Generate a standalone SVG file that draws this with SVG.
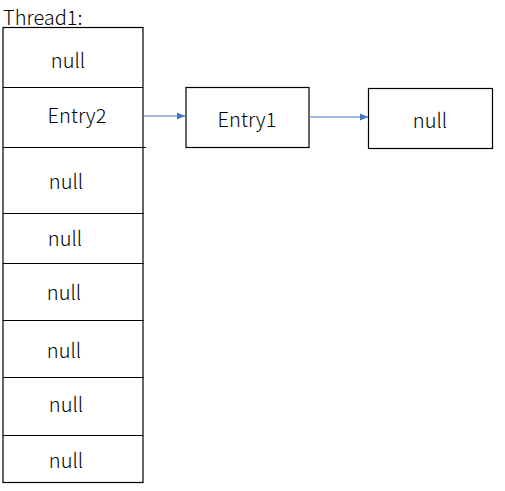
<svg xmlns="http://www.w3.org/2000/svg" width="505" height="491" viewBox="0 0 505 491">
<style>
.box{fill:#fff;stroke:#000;stroke-width:1.2}
.ln{stroke:#000;stroke-width:1.2}
.t{font-family:"Noto Sans CJK SC","Noto Sans",sans-serif;font-size:20px;fill:#000;text-anchor:middle;font-weight:300}
.conn{stroke:#4472C4;stroke-width:1.2;fill:none}
</style>
<defs>
<marker id="ah" markerWidth="9" markerHeight="9" refX="8" refY="4.5" orient="auto" markerUnits="userSpaceOnUse">
<path d="M0,1 L8,4.5 L0,8 Z" fill="#4472C4"/>
</marker>
</defs>
<text x="3" y="25" font-family="Noto Sans CJK SC,Noto Sans,sans-serif" font-size="20" font-weight="300" fill="#000">Thread1:</text>
<g id="table">
<rect class="box" x="3" y="27.5" width="140" height="455"/>
<line class="ln" x1="3" y1="87.5" x2="143" y2="87.5"/>
<line class="ln" x1="3" y1="147.5" x2="146" y2="147.5"/>
<line class="ln" x1="3" y1="213.5" x2="144" y2="213.5"/>
<line class="ln" x1="3" y1="263.5" x2="144" y2="263.5"/>
<line class="ln" x1="3" y1="320.5" x2="144" y2="320.5"/>
<line class="ln" x1="3" y1="377.5" x2="144" y2="377.5"/>
<line class="ln" x1="3" y1="435.5" x2="143" y2="435.5"/>
</g>
<g id="cell0"><text class="t" x="68" y="68">null</text></g>
<g id="cell1"><text class="t" x="77" y="123">Entry2</text></g>
<g id="cell2"><text class="t" x="66" y="189">null</text></g>
<g id="cell3"><text class="t" x="65" y="246">null</text></g>
<g id="cell4"><text class="t" x="64" y="300">null</text></g>
<g id="cell5"><text class="t" x="64" y="358">null</text></g>
<g id="cell6"><text class="t" x="66" y="412">null</text></g>
<g id="cell7"><text class="t" x="66" y="468">null</text></g>
<g id="entry1">
<rect class="box" x="186" y="87.5" width="123" height="60"/>
<text class="t" x="247" y="127">Entry1</text>
</g>
<g id="null-end">
<rect class="box" x="368.5" y="88.5" width="124" height="60"/>
<text class="t" x="430" y="128">null</text>
</g>
<g id="connectors">
<line class="conn" x1="143" y1="116" x2="185" y2="116" marker-end="url(#ah)"/>
<line class="conn" x1="309" y1="117" x2="368" y2="117" marker-end="url(#ah)"/>
</g>
</svg>
